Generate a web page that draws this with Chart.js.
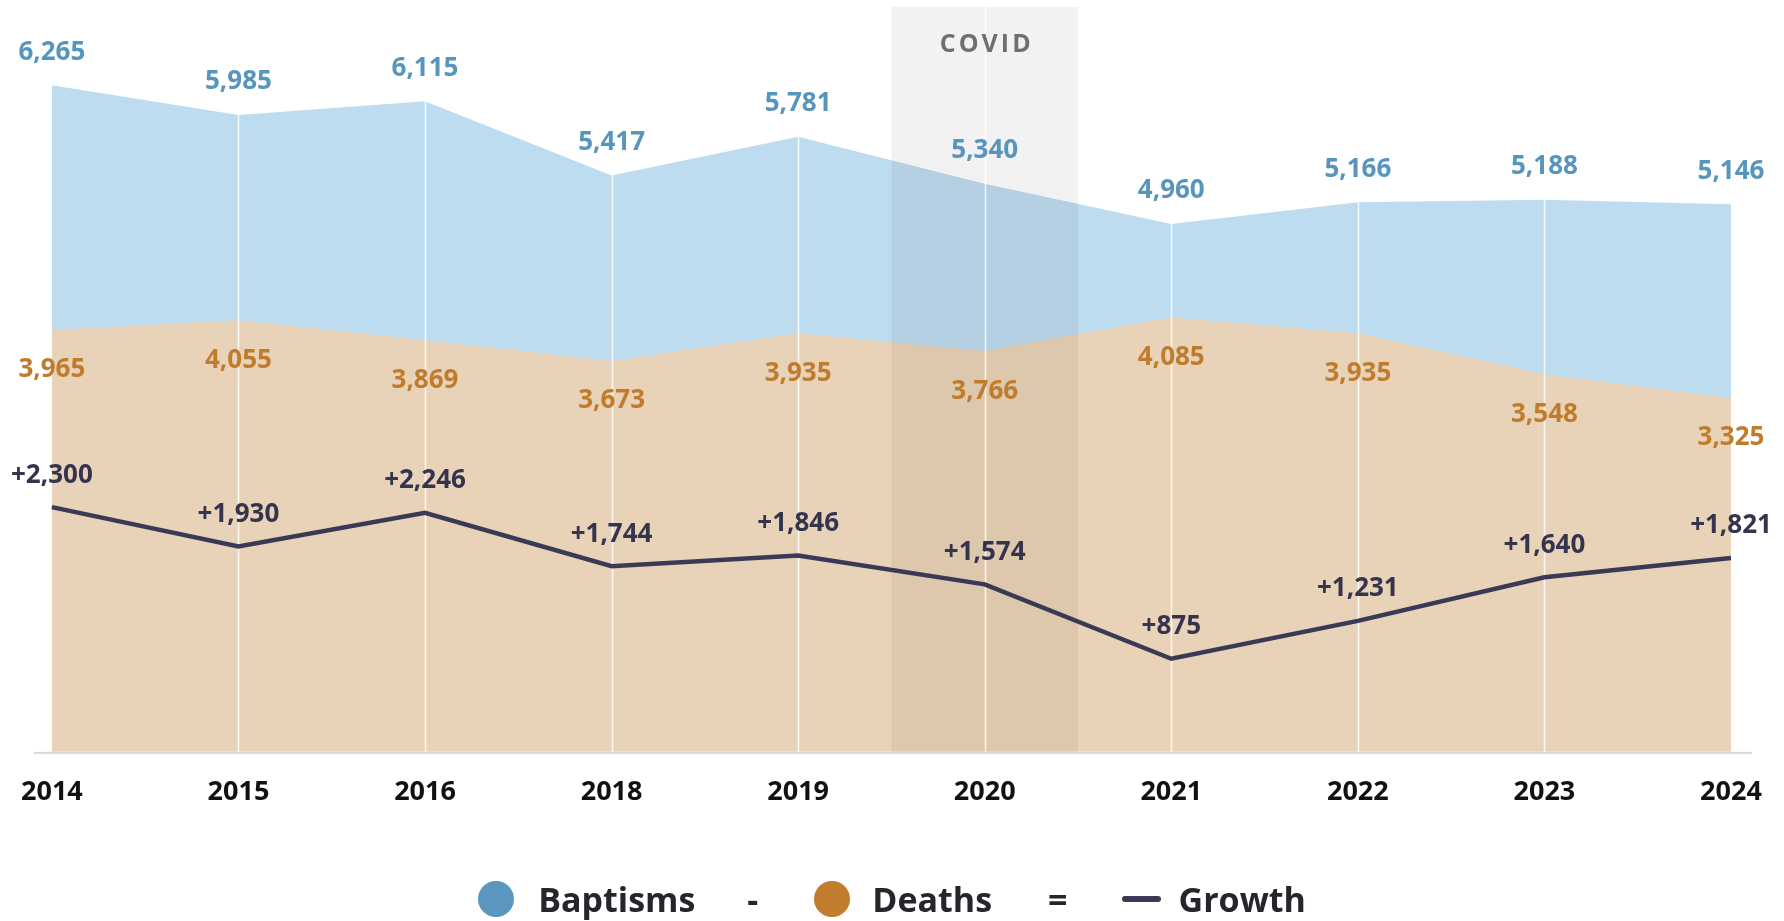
<!DOCTYPE html>
<html>
<head>
<meta charset="utf-8">
<script src="https://cdn.jsdelivr.net/npm/chart.js@4.4.1/dist/chart.umd.min.js"></script>
<style>
  html, body { margin: 0; padding: 0; background: #fff; }
  #wrap { position: relative; width: 1784px; height: 921px; }
  #legend {
    position: absolute; left: 0; top: 876px; width: 1784px; height: 46px;
    display: flex; align-items: center; justify-content: center;
    font-family: "Open Sans", sans-serif; font-weight: 700; font-size: 34px; color: #25262b;
  }
  .dot { width: 36px; height: 36px; border-radius: 50%; display: inline-block; }
  .bar { width: 39px; height: 6px; border-radius: 3px; background: #3b3a56; display: inline-block; }
</style>
</head>
<body>
<div id="wrap">
  <canvas id="myChart" width="1784" height="921"></canvas>
  <div id="legend">
    <span class="dot" style="background:#5b96bf"></span>
    <span style="margin-left:24px">Baptisms</span>
    <span style="margin-left:52px">-</span>
    <span class="dot" style="background:#c17c2d;margin-left:56px"></span>
    <span style="margin-left:22px">Deaths</span>
    <span style="margin-left:56px">=</span>
    <span class="bar" style="margin-left:54px"></span>
    <span style="margin-left:18px">Growth</span>
  </div>
</div>
<script>
var years = ["2014", "2015", "2016", "2018", "2019", "2020", "2021", "2022", "2023", "2024"];
var baptisms = [6265, 5985, 6115, 5417, 5781, 5340, 4960, 5166, 5188, 5146];
var deaths = [3965, 4055, 3869, 3673, 3935, 3766, 4085, 3935, 3548, 3325];
var growth = [2300, 1930, 2246, 1744, 1846, 1574, 875, 1231, 1640, 1821];
var covidYear = "2020";

var labelColors = ["#34344e", "#c07c2c", "#5895bd"];
var labelOffsets = [-32, 40, -33];

// covid band, white grid lines and the baseline
var extras = {
  id: "extras",
  beforeDatasetDraw: function(chart, args) {
    if (args.index !== 0) return;
    var ctx = chart.ctx, x = chart.scales.x, area = chart.chartArea;
    var i = years.indexOf(covidYear);
    var left = (x.getPixelForValue(i - 1) + x.getPixelForValue(i)) / 2;
    var right = (x.getPixelForValue(i) + x.getPixelForValue(i + 1)) / 2;
    ctx.save();
    ctx.fillStyle = "rgba(0,0,0,0.05)";
    ctx.fillRect(left, area.top, right - left, area.bottom - area.top);
    ctx.strokeStyle = "rgba(255,255,255,0.85)";
    ctx.lineWidth = 1.5;
    for (var j = 1; j < years.length - 1; j++) {
      var px = Math.round(x.getPixelForValue(j)) + 0.5;
      ctx.beginPath();
      ctx.moveTo(px, area.top);
      ctx.lineTo(px, area.bottom);
      ctx.stroke();
    }
    ctx.fillStyle = "#6d7070";
    ctx.font = "700 25px 'Open Sans'";
    ctx.letterSpacing = "3px";
    ctx.textAlign = "center";
    ctx.textBaseline = "middle";
    ctx.fillText("COVID", x.getPixelForValue(i) + 2, area.top + 38);
    ctx.restore();
  },
  afterDatasetsDraw: function(chart) {
    var ctx = chart.ctx, area = chart.chartArea;
    ctx.save();
    ctx.fillStyle = "#d9d9d9";
    ctx.fillRect(area.left - 18, area.bottom, area.right - area.left + 39, 2);
    ctx.font = "700 26px 'Open Sans'";
    ctx.textAlign = "center";
    ctx.textBaseline = "middle";
    chart.data.datasets.forEach(function(ds, d) {
      var meta = chart.getDatasetMeta(d);
      ctx.fillStyle = labelColors[d];
      meta.data.forEach(function(pt, k) {
        var v = ds.data[k];
        var txt = (d === 0 ? "+" : "") + v.toLocaleString("en-US");
        ctx.fillText(txt, pt.x, pt.y + labelOffsets[d]);
      });
    });
    ctx.restore();
  }
};

new Chart("myChart", {
  type: "line",
  data: {
    labels: years,
    datasets: [{
      label: "Growth",
      data: growth,
      borderColor: "#3b3a56",
      borderWidth: 4.5,
      pointRadius: 0,
      fill: false
    }, {
      label: "Deaths",
      data: deaths,
      borderWidth: 0,
      backgroundColor: "#e9d3b8",
      pointRadius: 0,
      fill: "origin"
    }, {
      label: "Baptisms",
      data: baptisms,
      borderWidth: 0,
      backgroundColor: "#bedcef",
      pointRadius: 0,
      fill: "origin"
    }]
  },
  options: {
    responsive: false,
    animation: false,
    layout: {padding: {left: 51, right: 53, top: 7, bottom: 88}},
    plugins: {legend: {display: false}, tooltip: {enabled: false}},
    scales: {
      x: {
        offset: false,
        grid: {display: false, drawTicks: false},
        border: {display: false},
        ticks: {color: "#111", padding: 21, maxRotation: 0, font: {family: "Open Sans", weight: "bold", size: 27, lineHeight: 1.45}}
      },
      y: {display: false, min: 0, max: 7000}
    }
  },
  plugins: [extras]
});
</script>
</body>
</html>
